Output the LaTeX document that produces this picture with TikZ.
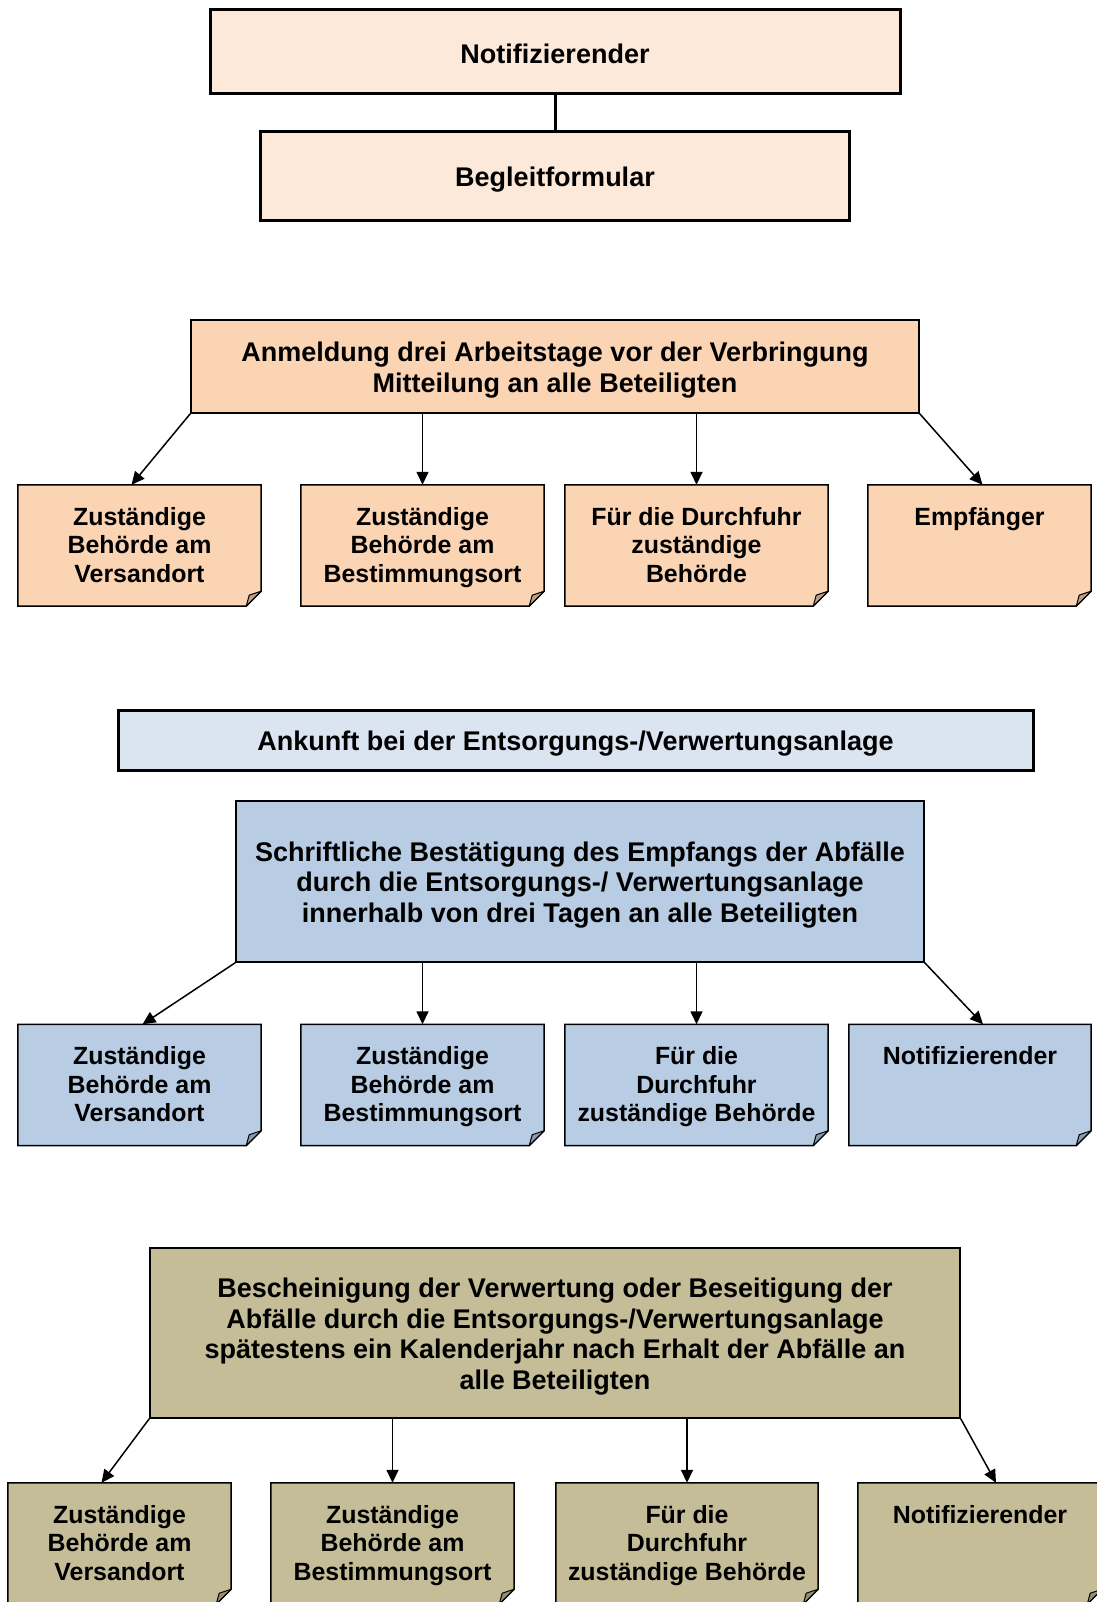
\documentclass[tikz,border=0pt]{standalone}
\usepackage{fontspec}
\setmainfont{Liberation Sans}
\usetikzlibrary{arrows.meta,calc,backgrounds}
\definecolor{PeachLight}{HTML}{FDE9D9}
\definecolor{Peach}{HTML}{FBD4B4}
\definecolor{BlueLight}{HTML}{DBE5F1}
\definecolor{BlueMid}{HTML}{B8CCE4}
\definecolor{Olive}{HTML}{C4BD97}
\tikzset{
  headbox/.style={draw=black, line width=3pt, fill=PeachLight, inner sep=0pt},
  stagebox/.style={draw=black, line width=1.5pt, inner sep=0pt},
  stagetext/.style={anchor=center, yshift=-3.5pt, inner sep=0pt, align=center,
    font=\fontsize{27}{30.6}\selectfont\bfseries},
  notebox/.style={rectangle, inner sep=0pt, minimum height=121pt},
  notetext/.style={anchor=north, yshift=-22pt, inner sep=0pt, align=center,
    font=\fontsize{24.9}{28.6}\selectfont\bfseries},
  noteline/.style={draw=black, line width=1.5pt, line join=miter},
  fold/.style={draw=black, line width=1pt, line join=round},
  wire/.style={-{Triangle[length=13pt,width=12pt]}, line width=1.5pt}
}
\begin{document}
\begin{tikzpicture}[x=1pt, y=-1pt]
  \useasboundingbox (0,0) rectangle (1096,1602);
  % kopf
  \node[headbox, minimum width=690pt, minimum height=84pt,
    label={[stagetext, yshift=1.5pt]center:Notifizierender}] (notif) at (555,52) {};
  \node[headbox, minimum width=589pt, minimum height=89pt,
    label={[stagetext]center:Begleitformular}] (begleit) at (555,176.5) {};
  \draw[line width=3pt] (notif) -- (begleit);

  % anmeldung
  \node[stagebox, fill=Peach, minimum width=728pt, minimum height=93pt,
    label={[stagetext]center:{Anmeldung drei Arbeitstage vor der Verbringung\\Mitteilung an alle Beteiligten}}] (anm) at (555,366.5) {};
  \node[notebox, minimum width=243pt, label={[notetext]north:{Zuständige\\Behörde am\\Versandort}}] (v1) at (139.5,545.5) {};
  \node[notebox, minimum width=243pt, label={[notetext]north:{Zuständige\\Behörde am\\Bestimmungsort}}] (v2) at (422.5,545.5) {};
  \node[notebox, minimum width=263pt, label={[notetext]north:{Für die Durchfuhr\\zuständige\\Behörde}}] (v3) at (696.5,545.5) {};
  \node[notebox, minimum width=223pt, label={[notetext]north:{Empfänger}}] (v4) at (979.5,545.5) {};
  \draw[wire] (anm.south west) -- ([xshift=-8pt]v1.north);
  \draw[wire] (v2.north |- anm.south) -- (v2.north);
  \draw[wire] (v3.north |- anm.south) -- (v3.north);
  \draw[wire] (anm.south east) -- ([xshift=3pt]v4.north);

  % ankunft
  \node[stagebox, line width=3pt, fill=BlueLight, minimum width=915pt, minimum height=60pt,
    label={[stagetext]center:Ankunft bei der Entsorgungs-/Verwertungsanlage}] (ankunft) at (575.5,740) {};
  \node[stagebox, fill=BlueMid, minimum width=688pt, minimum height=161pt,
    label={[stagetext]center:{Schriftliche Bestätigung des Empfangs der Abfälle\\durch die Entsorgungs-/ Verwertungsanlage\\innerhalb von drei Tagen an alle Beteiligten}}] (empfang) at (580,881.5) {};
  \node[notebox, minimum width=243pt, label={[notetext]north:{Zuständige\\Behörde am\\Versandort}}] (w1) at (139.5,1085) {};
  \node[notebox, minimum width=243pt, label={[notetext]north:{Zuständige\\Behörde am\\Bestimmungsort}}] (w2) at (422.5,1085) {};
  \node[notebox, minimum width=263pt, label={[notetext]north:{Für die\\Durchfuhr\\zuständige Behörde}}] (w3) at (696.5,1085) {};
  \node[notebox, minimum width=242pt, label={[notetext]north:{Notifizierender}}] (w4) at (970,1085) {};
  \draw[wire] (empfang.south west) -- ([xshift=3pt]w1.north);
  \draw[wire] (w2.north |- empfang.south) -- (w2.north);
  \draw[wire] (w3.north |- empfang.south) -- (w3.north);
  \draw[wire] (empfang.south east) -- ([xshift=13pt]w4.north);

  % bescheinigung
  \node[stagebox, fill=Olive, minimum width=810pt, minimum height=170pt,
    label={[stagetext]center:{Bescheinigung der Verwertung oder Beseitigung der\\Abfälle durch die Entsorgungs-/Verwertungsanlage\\spätestens ein Kalenderjahr nach Erhalt der Abfälle an\\alle Beteiligten}}] (beschein) at (555,1333) {};
  \node[notebox, minimum width=223pt, label={[notetext]north:{Zuständige\\Behörde am\\Versandort}}] (u1) at (119.5,1543.5) {};
  \node[notebox, minimum width=243pt, label={[notetext]north:{Zuständige\\Behörde am\\Bestimmungsort}}] (u2) at (392.5,1543.5) {};
  \node[notebox, minimum width=262pt, label={[notetext]north:{Für die\\Durchfuhr\\zuständige Behörde}}] (u3) at (687,1543.5) {};
  \node[notebox, minimum width=244pt, label={[notetext]north:{Notifizierender}}] (u4) at (980,1543.5) {};
  \draw[wire] (beschein.south west) -- ([xshift=-18pt]u1.north);
  \draw[wire] (u2.north |- beschein.south) -- (u2.north);
  \draw[wire] (u3.north |- beschein.south) -- (u3.north);
  \draw[wire] (beschein.south east) -- ([xshift=16pt]u4.north);

  % notizzettel mit eselsohr
  \begin{scope}[on background layer]
    \foreach \n/\c in {v1/Peach,v2/Peach,v3/Peach,v4/Peach,w1/BlueMid,w2/BlueMid,w3/BlueMid,w4/BlueMid,
                       u1/Olive,u2/Olive,u3/Olive,u4/Olive}{
      \filldraw[noteline, fill=\c] (\n.north west) -- (\n.north east) -- ($(\n.south east)+(0,-15)$)
        -- ($(\n.south east)+(-15,0)$) -- (\n.south west) -- cycle;
      \filldraw[fold, fill=\c!75!black] ($(\n.south east)+(0,-15)$) -- ($(\n.south east)+(-15,0)$)
        -- ($(\n.south east)+(-12,-11)$) -- cycle;
    }
  \end{scope}
\end{tikzpicture}
\end{document}
